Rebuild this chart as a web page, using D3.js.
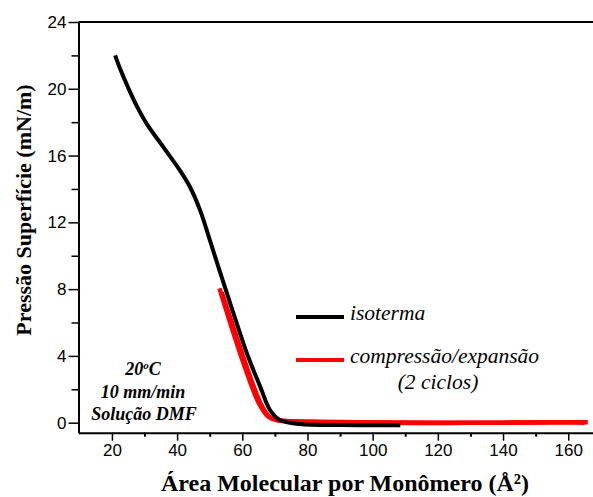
<!DOCTYPE html>
<html>
<head>
<meta charset="utf-8">
<script src="https://cdn.jsdelivr.net/npm/d3@7"></script>
<style>
  html, body { margin: 0; padding: 0; background: #fff; }
  svg { display: block; }
</style>
</head>
<body>
<svg id="chart" width="593" height="497"></svg>
<script>
// Isotherm (black curve): molecular area (Å²) vs surface pressure (mN/m)
const isoArea     = [21, 22.3, 23.8, 25.6, 27.8, 30.7, 35.8, 40.9, 44.0, 47.1, 50.1, 53.2, 55.7, 57.3, 61.4, 65.5, 68.5, 71.6, 77.7, 90, 100, 108.5];
const isoPressure = [22, 21.3, 20.6, 19.8, 18.9, 17.9, 16.5, 15.1, 14.1, 12.7, 10.9, 9.0, 7.5, 6.55, 4.16, 2.16, 0.76, 0.16, -0.08, -0.14, -0.15, -0.15];

// Compression/expansion cycles (red curves)
const cyc1Area     = [53.0, 57.0, 61.1, 65.1, 68.0, 71.8, 80, 95, 110, 125, 140, 155, 166];
const cyc1Pressure = [8.05, 5.55, 3.16, 1.16, 0.36, 0.12, 0.06, 0.03, 0.01, 0.0, 0.0, 0.02, 0.02];
const cyc2Area     = [53.7, 57.9, 62.0, 65.9, 68.7, 72.6, 85, 100, 115, 130, 145, 160, 165];
const cyc2Pressure = [7.8, 5.35, 2.98, 1.04, 0.30, 0.10, 0.04, 0.0, -0.02, -0.01, 0.01, 0.03, 0.0];

// Axis ticks
const xTicks = [20, 40, 60, 80, 100, 120, 140, 160];
const xMinorTicks = [30, 50, 70, 90, 110, 130, 150];
const yTicks = [0, 4, 8, 12, 16, 20, 24];
const yMinorTicks = [2, 6, 10, 14, 18, 22];

const legendLabels = ["isoterma", "compressão/expansão", "(2 ciclos)"];
const noteLines = ["10 mm/min", "Solução DMF"];

const svg = d3.select("#chart");
const plotL = 78.5, plotR = 593, plotT = 22, plotB = 432.7;

const x = d3.scaleLinear().domain([9.75, 167.6]).range([plotL, plotR]);
const y = d3.scaleLinear().domain([-0.6, 24]).range([plotB, plotT]);

const tickFont = "'Liberation Sans', Arial, sans-serif";
const serif = "'Liberation Serif', 'Times New Roman', serif";

// Minor ticks
svg.append("g").attr("transform", `translate(0,${plotB})`)
  .call(d3.axisBottom(x).tickValues(xMinorTicks).tickSize(4).tickFormat(""))
  .call(g => g.select(".domain").remove())
  .selectAll("line").attr("stroke", "#000").attr("stroke-width", 2);
svg.append("g").attr("transform", `translate(${plotL},0)`)
  .call(d3.axisLeft(y).tickValues(yMinorTicks).tickSize(7).tickFormat(""))
  .call(g => g.select(".domain").remove())
  .selectAll("line").attr("stroke", "#000").attr("stroke-width", 1.5);

// Major axes
const xAxis = svg.append("g").attr("transform", `translate(0,${plotB})`)
  .call(d3.axisBottom(x).tickValues(xTicks).tickSize(8).tickPadding(3).tickSizeOuter(0));
const yAxis = svg.append("g").attr("transform", `translate(${plotL},0)`)
  .call(d3.axisLeft(y).tickValues(yTicks).tickSize(10).tickPadding(2).tickSizeOuter(0));
[xAxis, yAxis].forEach(g => {
  g.select(".domain").attr("stroke", "#000").attr("stroke-width", 2);
  g.selectAll(".tick line").attr("stroke", "#000").attr("stroke-width", 1.5);
  g.selectAll("text").attr("font-family", tickFont).attr("font-size", 17).attr("fill", "#000");
});

// Top frame line
svg.append("line")
  .attr("x1", plotL).attr("x2", plotR).attr("y1", plotT).attr("y2", plotT)
  .attr("stroke", "#000").attr("stroke-width", 2);

// Curves
const zip = (a, b) => a.map((v, i) => [v, b[i]]);
const redLine = d3.line().x(d => x(d[0])).y(d => y(d[1])).curve(d3.curveMonotoneX);
const blackLine = d3.line().x(d => x(d[0])).y(d => y(d[1])).curve(d3.curveCatmullRom.alpha(0.5));

[zip(cyc2Area, cyc2Pressure), zip(cyc1Area, cyc1Pressure)].forEach(pts => {
  svg.append("path").datum(pts).attr("d", redLine)
    .attr("fill", "none").attr("stroke", "#ff0000")
    .attr("stroke-width", 4.5).attr("stroke-linejoin", "round");
});
svg.append("path").datum(zip(isoArea, isoPressure)).attr("d", blackLine)
  .attr("fill", "none").attr("stroke", "#000")
  .attr("stroke-width", 4).attr("stroke-linejoin", "round");

// Legend
svg.append("line").attr("x1", 296).attr("x2", 344).attr("y1", 317).attr("y2", 317)
  .attr("stroke", "#000").attr("stroke-width", 4);
svg.append("line").attr("x1", 296).attr("x2", 344).attr("y1", 360).attr("y2", 360)
  .attr("stroke", "#ff0000").attr("stroke-width", 4);
const legText = svg.append("g").attr("font-family", serif).attr("font-style", "italic")
  .attr("font-size", 21.5).attr("fill", "#000");
legText.append("text").attr("x", 350).attr("y", 320).text(legendLabels[0]);
legText.append("text").attr("x", 350).attr("y", 363).text(legendLabels[1]);
legText.append("text").attr("x", 438).attr("y", 389).attr("text-anchor", "middle").text(legendLabels[2]);

// Conditions note
const note = svg.append("g").attr("font-family", serif).attr("font-style", "italic")
  .attr("font-weight", "bold").attr("font-size", 18).attr("fill", "#000")
  .attr("text-anchor", "middle");
const t20 = note.append("text").attr("x", 143).attr("y", 375);
t20.append("tspan").text("20");
t20.append("tspan").attr("font-size", 11).attr("dy", -6).text("o");
t20.append("tspan").attr("dy", 6).text("C");
note.append("text").attr("x", 143).attr("y", 398).text(noteLines[0]);
note.append("text").attr("x", 144).attr("y", 420).text(noteLines[1]);

// Axis titles
svg.append("text").attr("x", 345).attr("y", 491).attr("text-anchor", "middle")
  .attr("font-family", serif).attr("font-weight", "bold").attr("font-size", 24)
  .text("Área Molecular por Monômero (Å²)");
svg.append("text").attr("transform", "translate(31,210) rotate(-90)")
  .attr("text-anchor", "middle")
  .attr("font-family", serif).attr("font-weight", "bold").attr("font-size", 22)
  .text("Pressão Superfície (mN/m)");
</script>
</body>
</html>
